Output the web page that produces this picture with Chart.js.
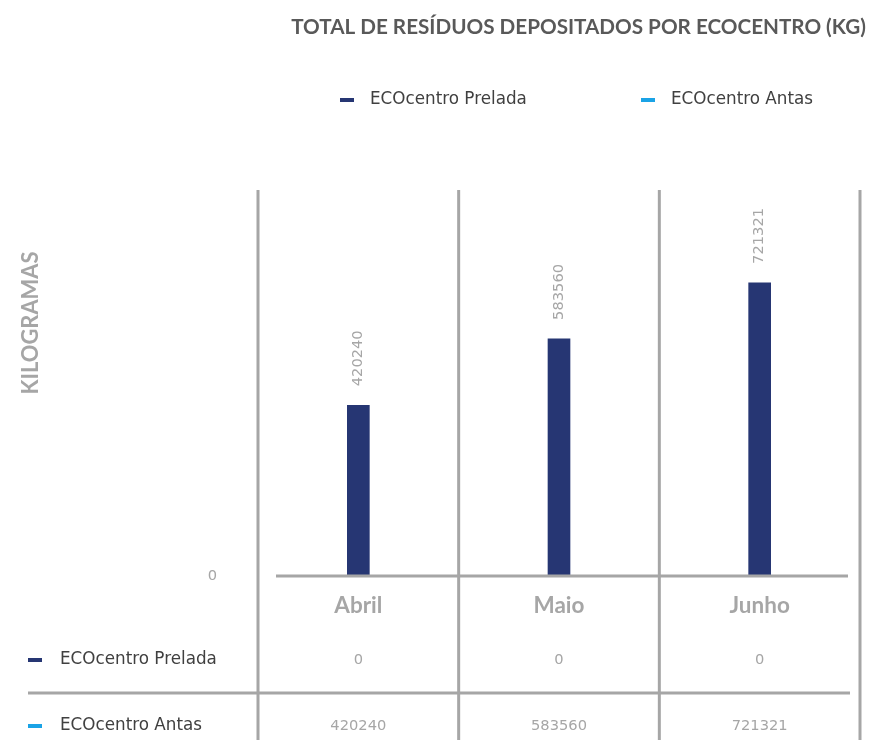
<!DOCTYPE html>
<html>
<head>
<meta charset="utf-8">
<script src="https://cdn.jsdelivr.net/npm/chart.js@4"></script>
<style>
  html, body { margin: 0; padding: 0; background: #ffffff; }
  #wrap { width: 871px; height: 740px; }
</style>
</head>
<body>
<div id="wrap"><canvas id="c" width="871" height="740"></canvas></div>
<script>
const categories = ['Abril', 'Maio', 'Junho'];
const seriesNames = ['ECOcentro Prelada', 'ECOcentro Antas'];
const prelada = [0, 0, 0];
const antas = [420240, 583560, 721321];
const yTicks = [0];
const chartTitle = 'TOTAL DE RESÍDUOS DEPOSITADOS POR ECOCENTRO (KG)';
const yTitle = 'KILOGRAMAS';

const NAVY = '#263673';
const LIGHT = '#1aa3e6';
const GRID = '#a6a6a6';
const REG = '"DejaVu Sans", sans-serif';
const BOLD = 'Lato, "DejaVu Sans", sans-serif';

function fitFont(ctx, text, width, weight, family) {
  ctx.font = weight + ' 100px ' + family;
  const w = ctx.measureText(text).width;
  const size = 100 * width / w;
  return weight + ' ' + size.toFixed(2) + 'px ' + family;
}

const overlay = {
  id: 'overlay',
  afterDatasetsDraw(chart) {
    const ctx = chart.ctx;
    const a = chart.chartArea;
    const xs = chart.scales.x, ys = chart.scales.y;
    const n = categories.length;
    const centers = categories.map((_, i) => xs.getPixelForValue(i));
    const half = (a.right - a.left) / n / 2;
    const y0 = ys.getPixelForValue(0);
    ctx.save();

    const numFont = fitFont(ctx, '420240', 56, 'normal', REG);
    const labFont = fitFont(ctx, 'ECOcentro Prelada', 157, 'normal', REG);

    // vertical separators
    ctx.strokeStyle = GRID;
    ctx.lineWidth = 3;
    const bounds = [a.left].concat(centers.map(c => c + half));
    bounds.forEach(x => {
      ctx.beginPath(); ctx.moveTo(x, a.top); ctx.lineTo(x, chart.height); ctx.stroke();
    });
    // axis line
    ctx.beginPath(); ctx.moveTo(a.left + 18, y0); ctx.lineTo(a.right - 12, y0); ctx.stroke();
    // table separator
    ctx.beginPath(); ctx.moveTo(28, 693); ctx.lineTo(a.right - 10, 693); ctx.stroke();

    // y tick labels
    ctx.fillStyle = GRID;
    ctx.font = numFont;
    ctx.textAlign = 'right'; ctx.textBaseline = 'middle';
    yTicks.forEach(t => ctx.fillText(String(t), 217, ys.getPixelForValue(t)));

    // y title
    ctx.save();
    ctx.translate(31, 323);
    ctx.rotate(-Math.PI / 2);
    ctx.font = fitFont(ctx, yTitle, 143, 'bold', BOLD);
    ctx.textAlign = 'center';
    ctx.fillText(yTitle, 0, 0);
    ctx.restore();

    // category labels
    ctx.font = fitFont(ctx, 'Abril', 48, 'bold', BOLD);
    ctx.textAlign = 'center';
    categories.forEach((c, i) => ctx.fillText(c, centers[i], 606));

    // data labels (rotated)
    ctx.font = numFont;
    const meta = chart.getDatasetMeta(1);
    meta.data.forEach((bar, i) => {
      ctx.save();
      ctx.translate(bar.x, bar.y - 19);
      ctx.rotate(-Math.PI / 2);
      ctx.textAlign = 'left'; ctx.textBaseline = 'middle';
      ctx.fillText(String(antas[i]), 0, 0);
      ctx.restore();
    });

    // data table
    const rows = [prelada, antas];
    const rowY = [660, 726];
    const cols = [NAVY, LIGHT];
    rows.forEach((r, ri) => {
      ctx.fillStyle = cols[ri];
      ctx.fillRect(28, rowY[ri] - 2, 14, 4);
      ctx.fillStyle = '#404040';
      ctx.font = labFont;
      ctx.textAlign = 'left'; ctx.textBaseline = 'middle';
      ctx.fillText(seriesNames[ri], 60, rowY[ri]);
      ctx.fillStyle = GRID;
      ctx.font = numFont;
      ctx.textAlign = 'center';
      r.forEach((v, i) => ctx.fillText(String(v), centers[i], rowY[ri]));
    });

    // title
    ctx.fillStyle = '#595959';
    ctx.font = fitFont(ctx, chartTitle, 575, 'bold', BOLD);
    ctx.textAlign = 'center';
    ctx.fillText(chartTitle, 578.5, 27);

    // legend
    ctx.font = labFont;
    ctx.textAlign = 'left';
    const legX = [340, 641];
    seriesNames.forEach((s, i) => {
      ctx.fillStyle = cols[i];
      ctx.fillRect(legX[i], 98, 14, 4);
      ctx.fillStyle = '#404040';
      ctx.fillText(s, legX[i] + 30, 100);
    });
    ctx.restore();
  }
};

new Chart(document.getElementById('c'), {
  type: 'bar',
  data: {
    labels: categories,
    datasets: [
      { label: seriesNames[0], data: prelada, backgroundColor: NAVY, barThickness: 22 },
      { label: seriesNames[1], data: antas, backgroundColor: NAVY, barThickness: 22 }
    ]
  },
  options: {
    responsive: false,
    animation: false,
    devicePixelRatio: 1,
    layout: { padding: { top: 190, bottom: 164, left: 258, right: 11 } },
    plugins: { legend: { display: false }, title: { display: false }, tooltip: { enabled: false } },
    scales: {
      x: { display: false, stacked: true },
      y: { display: false, stacked: true, min: 0, max: 950000 }
    }
  },
  plugins: [overlay]
});
</script>
</body>
</html>
